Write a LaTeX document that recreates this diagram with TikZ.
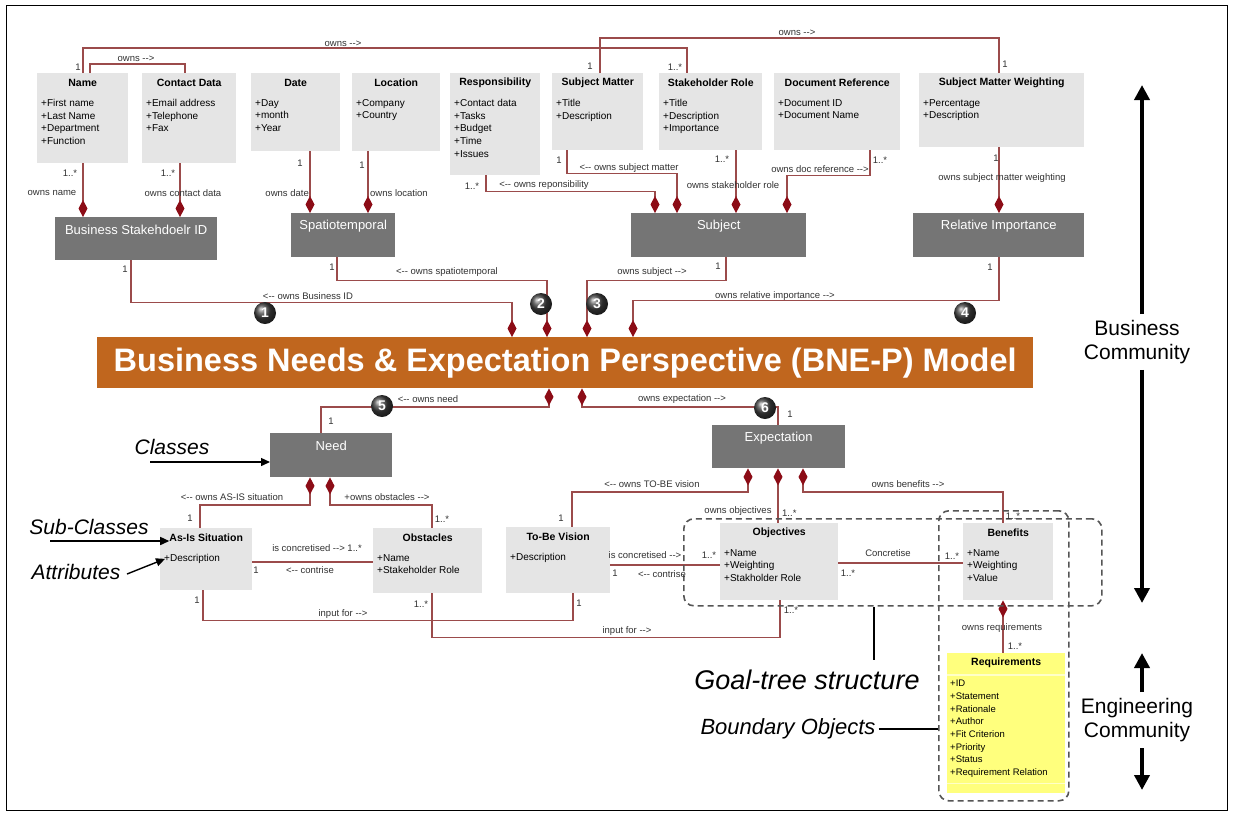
\documentclass[tikz,border=0pt]{standalone}
\usepackage{fontspec}
\setmainfont{Liberation Sans}
\usetikzlibrary{arrows.meta,calc}

\definecolor{clsgray}{RGB}{229,229,229}
\definecolor{dkgray}{RGB}{117,117,117}
\definecolor{linkc}{RGB}{155,75,75}
\definecolor{dmd}{RGB}{140,12,22}
\definecolor{bneorange}{RGB}{192,102,30}
\definecolor{reqyellow}{RGB}{255,255,125}
\definecolor{reqsep}{RGB}{255,255,200}
\definecolor{lbltext}{RGB}{50,50,50}
\definecolor{dashc}{RGB}{85,85,85}

% auto-named connector labels
\newcounter{lb}
\newcommand{\lab}[3][]{\stepcounter{lb}\node[lbl,#1] (lb\arabic{lb}) at (#2) {#3};}
\newcommand{\la}{<-{}-}
\newcommand{\ra}{-{}->}

% light class box: name, x, y, width, height, title, attributes
\newcommand{\classbox}[7]{%
  \node[clsbox, minimum width=#4pt, minimum height=#5pt] (#1) at (#2,#3) {};
  \node[clstitle] (#1-t) at ($(#1.north)+(0,10)$) {#6};
  \node[clsattr] (#1-a) at ($(#1.north west)+(4,26)$) {#7};}
% dark class box: name, x, y, width, height, title
\newcommand{\darkbox}[6]{%
  \node[dkbox, minimum width=#4pt, minimum height=#5pt] (#1) at (#2,#3) {};
  \node[dktext] (#1-t) at ($(#1.north)+(0,13)$) {#6};}

\begin{document}
\begin{tikzpicture}[x=1pt,y=-1pt,
  clsbox/.style={fill=clsgray,inner sep=0pt,anchor=north west},
  clstitle/.style={font=\fontsize{10.5}{12}\selectfont\bfseries,inner sep=0pt},
  clsattr/.style={font=\fontsize{10}{12.7}\selectfont,align=left,inner sep=0pt,anchor=north west},
  dkbox/.style={fill=dkgray,inner sep=0pt,anchor=north west},
  dktext/.style={font=\fontsize{13}{15}\selectfont,text=white,inner sep=0pt},
  lbl/.style={font=\fontsize{9.5}{10}\selectfont,text=lbltext,inner sep=0pt},
  ln/.style={draw=linkc,line width=1.2pt},
  own/.style={ln,{Diamond[length=17pt,width=9pt,color=dmd]}-},
  bullet/.style={circle,minimum size=22pt,inner sep=0pt,ball color=black!75,text=white,font=\fontsize{14}{14}\selectfont\bfseries},
  goalbox/.style={draw=dashc,line width=1.6pt,dash pattern=on 6pt off 4pt,rounded corners=10pt,inner sep=0pt,anchor=north west},
  pointer/.style={draw=black,line width=1.4pt,-{Triangle[length=9pt,width=8pt]}},
  bigarrow/.style={draw=black,line width=4pt,-{Triangle[length=15pt,width=15pt]}},
  note/.style={font=\fontsize{21}{24}\selectfont\itshape,inner sep=0pt},
  side/.style={font=\fontsize{21}{24}\selectfont,align=center,inner sep=6pt}]

\useasboundingbox (0,0) rectangle (1233,815);
\fill[white] (0,0) rectangle (1233,815);
\draw[black,line width=1pt] (6,5) rectangle (1227,810);

% ---------- top row of classes ----------
\classbox{name}{37}{73}{91}{90}{Name}{+First name\\+Last Name\\+Department\\+Function}
\classbox{contact}{142}{73}{94}{90}{Contact Data}{+Email address\\+Telephone\\+Fax}
\classbox{date}{251}{73}{89}{78}{Date}{+Day\\+month\\+Year}
\classbox{location}{352}{73}{88}{78}{Location}{+Company\\+Country}
\classbox{resp}{450}{73}{90}{102}{Responsibility}{+Contact data\\+Tasks\\+Budget\\+Time\\+Issues}
\classbox{smatter}{552}{73}{91}{77}{Subject Matter}{+Title\\+Description}
\classbox{srole}{659}{73}{103}{77}{Stakeholder Role}{+Title\\+Description\\+Importance}
\classbox{docref}{774}{73}{126}{77}{Document Reference}{+Document ID\\+Document Name}
\classbox{smw}{919}{73}{165}{74}{Subject Matter Weighting}{+Percentage\\+Description}

% ---------- aggregating classes ----------
\darkbox{bsid}{55}{217}{162}{43}{Business Stakehdoelr ID}
\darkbox{spatio}{291}{213}{104}{44}{Spatiotemporal}
\darkbox{subject}{631}{213}{175}{44}{Subject}
\darkbox{relimp}{913}{213}{171}{44}{Relative Importance}

% ---------- central model ----------
\node[fill=bneorange,minimum width=936pt,minimum height=51pt,anchor=north west,inner sep=0pt] (bne) at (97,337) {};
\node[text=white,font=\fontsize{32.5}{36}\selectfont\bfseries,inner sep=0pt] (bne-t) at (bne.center)
  {Business Needs \& Expectation Perspective (BNE-P) Model};

% ---------- lower classes ----------
\darkbox{need}{270}{433}{122}{44}{Need}
\darkbox{expect}{712}{425}{133}{43}{Expectation}
\classbox{asis}{160}{528}{92}{62}{As-Is Situation}{+Description}
\classbox{obst}{373}{528}{109}{65}{Obstacles}{+Name\\+Stakeholder Role}
\classbox{tobe}{506}{527}{104}{66}{To-Be Vision}{+Description}
\classbox{objs}{720}{523}{118}{77}{Objectives}{+Name\\+Weighting\\+Stakholder Role}
\classbox{bens}{963}{523}{90}{77}{Benefits}{+Name\\+Weighting\\+Value}

% requirements (boundary object)
\node[fill=reqyellow,inner sep=0pt,anchor=north west,minimum width=118pt,minimum height=140pt] (reqs) at (947,653) {};
\draw[reqsep,line width=1.5pt] ($(reqs.north west)+(0,22)$) -- ($(reqs.north east)+(0,22)$);
\draw[reqsep,line width=1.5pt] ($(reqs.south west)+(0,-10)$) -- ($(reqs.south east)+(0,-10)$);
\node[clstitle] (reqs-t) at ($(reqs.north)+(0,10)$) {Requirements};
\node[clsattr,font=\fontsize{9.5}{12.7}\selectfont] (reqs-a) at ($(reqs.north west)+(3,27)$)
  {+ID\\+Statement\\+Rationale\\+Author\\+Fit Criterion\\+Priority\\+Status\\+Requirement Relation};

% ---------- associations, top ----------
\draw[ln] ($(name.north west)+(46,0)$) |- ($(srole.north west)+(28,-25)$) -- ($(srole.north west)+(28,0)$);
\draw[ln] ($(name.north west)+(53,0)$) |- ($(contact.north west)+(43,-9)$) -- ($(contact.north west)+(43,0)$);
\draw[ln] ($(smatter.north west)+(48,0)$) |- ($(smw.north west)+(80,-35)$) -- ($(smw.north west)+(80,0)$);

\draw[own] ($(bsid.north west)+(28,0)$) -- ($(name.south west)+(46,0)$);
\draw[own] ($(bsid.north west)+(125,0)$) -- ($(contact.south west)+(38,0)$);
\draw[own] ($(spatio.north west)+(19,0)$) -- ($(date.south west)+(59,0)$);
\draw[own] ($(spatio.north west)+(77,0)$) -- ($(location.south west)+(16,0)$);
\draw[own] ($(subject.north west)+(24,0)$) |- ($(resp.south west)+(36,16)$) -- ($(resp.south west)+(36,0)$);
\draw[own] ($(subject.north west)+(46,0)$) |- ($(smatter.south west)+(15,23)$) -- ($(smatter.south west)+(15,0)$);
\draw[own] ($(subject.north west)+(105,0)$) -- ($(srole.south west)+(77,0)$);
\draw[own] ($(subject.north west)+(156,0)$) |- ($(docref.south west)+(96,25)$) -- ($(docref.south west)+(96,0)$);
\draw[own] ($(relimp.north west)+(86,0)$) -- ($(smw.south west)+(80,0)$);

% ---------- associations to the model ----------
\draw[own] ($(bne.north west)+(415,0)$) |- ($(bsid.south west)+(76,42)$) -- ($(bsid.south west)+(76,0)$);
\draw[own] ($(bne.north west)+(450,0)$) |- ($(spatio.south west)+(46,23)$) -- ($(spatio.south west)+(46,0)$);
\draw[own] ($(bne.north west)+(490,0)$) |- ($(subject.south west)+(95,23)$) -- ($(subject.south west)+(95,0)$);
\draw[own] ($(bne.north west)+(536,0)$) |- ($(relimp.south west)+(86,43)$) -- ($(relimp.south west)+(86,0)$);
\draw[own] ($(bne.south west)+(452,0)$) |- ($(need.north west)+(51,-26)$) -- ($(need.north west)+(51,0)$);
\draw[own] ($(bne.south west)+(485,0)$) |- ($(expect.north west)+(66,-18)$) -- ($(expect.north west)+(66,0)$);

% ---------- associations, bottom ----------
\draw[own] ($(need.south west)+(40,0)$) |- ($(asis.north west)+(40,-23)$) -- ($(asis.north west)+(40,0)$);
\draw[own] ($(need.south west)+(60,0)$) |- ($(obst.north west)+(59,-23)$) -- ($(obst.north west)+(59,0)$);
\draw[ln] ($(asis.north east)+(0,34)$) -- ($(obst.north west)+(0,34)$);
\draw[ln] ($(asis.south west)+(43,0)$) |- ($(tobe.south west)+(67,27)$) -- ($(tobe.south west)+(67,0)$);
\draw[ln] ($(obst.south west)+(59,0)$) |- ($(objs.south west)+(60,37)$) -- ($(objs.south west)+(60,0)$);
\draw[own] ($(expect.south west)+(36,0)$) |- ($(tobe.north west)+(66,-35)$) -- ($(tobe.north west)+(66,0)$);
\draw[own] ($(expect.south west)+(66,0)$) -- ($(objs.north west)+(58,0)$);
\draw[own] ($(expect.south west)+(91,0)$) |- ($(bens.north west)+(40,-31)$) -- ($(bens.north west)+(40,0)$);
\draw[ln] ($(tobe.north east)+(0,38)$) -- ($(objs.north west)+(0,42)$);
\draw[ln] ($(objs.north east)+(0,40)$) -- ($(bens.north west)+(0,40)$);
\draw[own] ($(bens.south west)+(40,0)$) -- ($(reqs.north west)+(56,0)$);

% ---------- grouping frames ----------
\node[goalbox,minimum width=418pt,minimum height=87pt] (goal) at (683,518) {};
\node[goalbox,minimum width=130pt,minimum height=290pt] (bound) at (938,510) {};

% ---------- labels ----------
\lab{343,44}{owns \ra}
\lab{136,59}{owns \ra}
\lab{797,33}{owns \ra}
\lab{78,67}{1}
\lab{675,67}{1..*}
\lab{590,66}{1}
\lab{1005,64}{1}
\lab{70,173}{1..*}
\lab{52,193}{owns name}
\lab{168,173}{1..*}
\lab{183,193}{owns contact data}
\lab{300,163}{1}
\lab[anchor=east]{309,193}{owns date}
\lab{362,165}{1}
\lab[anchor=west]{370,193}{owns location}
\lab{472,186}{1..*}
\lab{544,185}{\la{} owns reponsibility}
\lab{559,160}{1}
\lab{629,168}{\la{} owns subject matter}
\lab{722,159}{1..*}
\lab{733,185}{owns stakeholder role}
\lab{880,160}{1..*}
\lab{820,169}{owns doc reference \ra}
\lab{996,158}{1}
\lab{1002,178}{owns subject matter weighting}

\lab{125,269}{1}
\lab{308,296}{\la{} owns Business ID}
\lab{332,267}{1}
\lab{447,272}{\la{} owns spatiotemporal}
\lab{718,266}{1}
\lab{652,272}{owns subject \ra}
\lab{990,267}{1}
\lab{775,296}{owns relative importance \ra}
\lab{331,421}{1}
\lab{428,399}{\la{} owns need}
\lab{790,414}{1}
\lab{682,399}{owns expectation \ra}

\lab{232,497}{\la{} owns AS-IS situation}
\lab{190,518}{1}
\lab{387,497}{+owns obstacles \ra}
\lab{442,519}{1..*}
\lab{317,548}{is concretised \ra{} 1..*}
\lab{256,570}{1}
\lab{310,570}{\la{} contrise}
\lab{343,614}{input for \ra}
\lab{197,600}{1}
\lab{579,603}{1}
\lab{627,631}{input for \ra}
\lab{421,604}{1..*}
\lab{791,610}{1..*}
\lab{652,484}{\la{} owns TO-BE vision}
\lab{561,518}{1}
\lab{738,511}{owns objectives}
\lab[anchor=west]{782,513}{1..*}
\lab{908,484}{owns benefits \ra}
\lab{1013,516}{1..*}
\lab{645,555}{is concretised \ra}
\lab{709,555}{1..*}
\lab{615,573}{1}
\lab{662,574}{\la{} contrise}
\lab{888,553}{Concretise}
\lab{848,573}{1..*}
\lab{952,556}{1..*}
\lab{1002,628}{owns requirements}
\lab{1015,646}{1..*}

% ---------- numbered markers ----------
\node[bullet] (c1) at (265,313) {1};
\node[bullet] (c2) at (541,304) {2};
\node[bullet] (c3) at (597,304) {3};
\node[bullet] (c4) at (965,313) {4};
\node[bullet] (c5) at (382,406) {5};
\node[bullet] (c6) at (765,408) {6};

% ---------- annotations ----------
\node[note] (clsnote) at (172,447) {Classes};
\node[note] (subnote) at (89,527) {Sub-Classes};
\node[note] (attnote) at (76,572) {Attributes};
\coordinate (clsA) at (150,462);
\coordinate (subA) at (50,541);
\coordinate (attA) at (127,574);
\draw[pointer] (clsA) -- (need.west |- clsA);
\draw[pointer] (subA) -- (asis-t.west |- subA);
\draw[pointer] (attA) -- ($(asis-a.west)+(1,0)$);

\node[note,font=\fontsize{27}{30}\selectfont\itshape] (goaltxt) at (807,680) {Goal-tree structure};
\node[note,font=\fontsize{22}{26}\selectfont\itshape,inner sep=3pt] (bndtxt) at (788,729) {Boundary Objects};
\path (goal.south west) ++(191,0) coordinate (g1);
\draw[black,line width=1.2pt] (g1) -- ($(g1 |- goaltxt.north)+(0,-10)$);
\draw[black,line width=1.2pt] (bndtxt.east) -- (bndtxt.east -| bound.west);

% ---------- community axis ----------
\node[side] (bizc) at (1137,342) {Business\\Community};
\node[side] (engc) at (1137,720) {Engineering\\Community};
\coordinate (bizTop) at (1142,85);
\coordinate (bizBot) at (1142,603);
\coordinate (engTop) at (1142,653);
\coordinate (engBot) at (1142,790);
\draw[bigarrow] (bizc.north -| bizTop) -- (bizTop);
\draw[bigarrow] (bizc.south -| bizBot) -- (bizBot);
\draw[bigarrow] (engc.north -| engTop) -- (engTop);
\draw[bigarrow] (engc.south -| engBot) -- (engBot);
\end{tikzpicture}
\end{document}
